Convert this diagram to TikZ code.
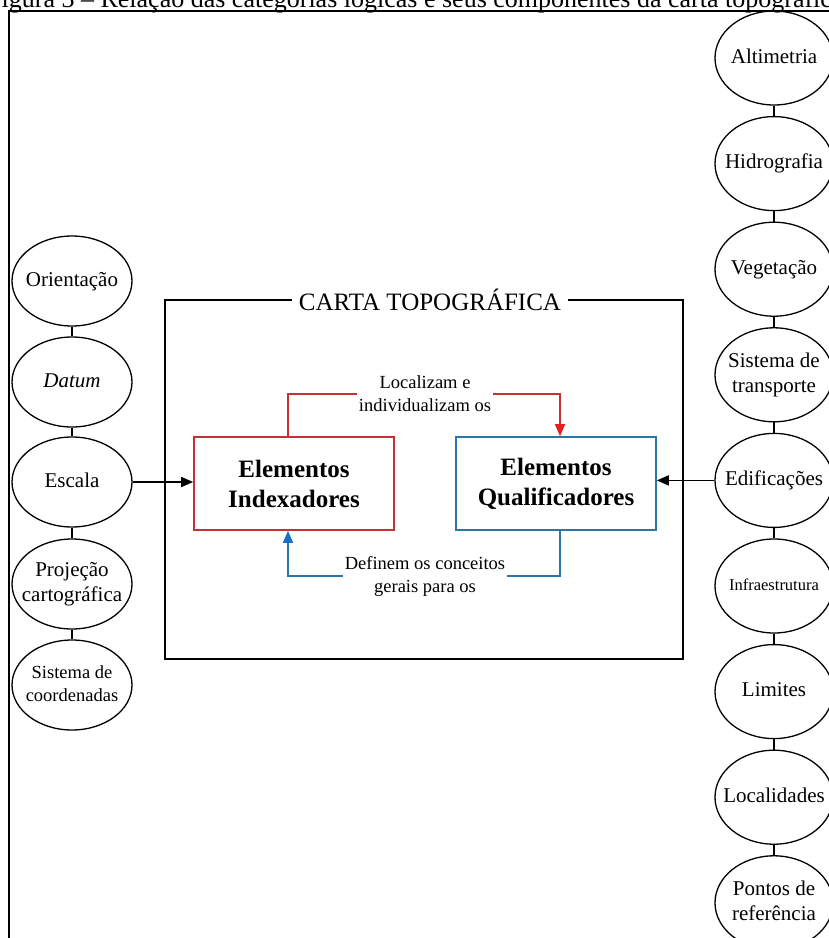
\documentclass[tikz,border=0pt]{standalone}
\usepackage{fontspec}
\setmainfont{Liberation Serif}
\usetikzlibrary{shapes.geometric,arrows.meta}
\definecolor{idxred}{RGB}{200,48,56}
\definecolor{quablue}{RGB}{42,118,165}
\definecolor{tipred}{RGB}{230,30,30}
\definecolor{tipblue}{RGB}{20,115,200}
% label that does not widen the ellipse
\newcommand{\clab}[1]{\makebox[0pt]{\begin{tabular}{@{}c@{}}#1\end{tabular}}}

\begin{document}
\begin{tikzpicture}[x=1pt, y=-1pt,
  comp/.style={draw, ellipse, line width=1.3pt, minimum width=118pt, minimum height=94pt, inner sep=0pt, font=\fontsize{21}{25}\selectfont},
  compleft/.style={comp, minimum width=120pt, minimum height=90pt},
  catbox/.style={draw=#1, line width=1.6pt, minimum width=200pt, minimum height=93pt, align=center, text=black, font=\fontsize{25}{30}\selectfont\bfseries},
  rel/.style={fill=white, inner sep=2pt, align=center, font=\fontsize{18.5}{23}\selectfont},
  link/.style={line width=1.3pt},
  feed/.style={line width=1.6pt, -{Triangle[length=12pt,width=10pt]}}]
\useasboundingbox (0,0) rectangle (829,938);
% caption and frame
\node[anchor=base west, inner sep=0pt, font=\fontsize{26}{30}\selectfont] (caption) at (-13,7) {Figura 3 -- Relação das categorias lógicas e seus componentes da carta topográfica};
\draw[line width=1.8pt] (9,938) -- (9,11) -- (829,11);
% carta
\draw[line width=1.6pt] (165,300) rectangle (683,659);
\node[fill=white, inner sep=7pt, font=\fontsize{25}{30}\selectfont] (title) at (430,300) {CARTA TOPOGRÁFICA};
\node[catbox=idxred] (idx) at (294,483.5) {Elementos\\Indexadores};
\node[catbox=quablue] (qua) at (556,483.5) {Elementos\\Qualificadores};
% left column
\node[compleft] (ori) at (72,281) {\clab{Orientação}};
\node[compleft] (dat) at (72,382) {\clab{\textit{Datum}}};
\node[compleft] (esc) at (72,482) {\clab{Escala}};
\node[compleft] (pro) at (72,584) {\clab{Projeção\\cartográfica}};
\node[compleft, font=\fontsize{18.5}{23}\selectfont] (sis) at (72,685) {\clab{Sistema de\\coordenadas}};
\draw[link] (ori) -- (dat);
\draw[link] (dat) -- (esc);
\draw[link] (esc) -- (pro);
\draw[link] (pro) -- (sis);
% right column
\node[comp] (alt) at (774,58) {\clab{Altimetria}};
\node[comp] (hid) at (774,163.6) {\clab{Hidrografia}};
\node[comp] (veg) at (774,269.2) {\clab{Vegetação}};
\node[comp] (tra) at (774,374.8) {\clab{Sistema de\\transporte}};
\node[comp] (edi) at (774,480.4) {\clab{Edificações}};
\node[comp, font=\fontsize{16.5}{20}\selectfont] (inf) at (774,586) {\clab{Infraestrutura}};
\node[comp] (lim) at (774,691.6) {\clab{Limites}};
\node[comp] (lcl) at (774,797.2) {\clab{Localidades}};
\node[comp] (pon) at (774,902.8) {\clab{Pontos de\\referência}};
\draw[link] (alt) -- (hid);
\draw[link] (hid) -- (veg);
\draw[link] (veg) -- (tra);
\draw[link] (tra) -- (edi);
\draw[link] (edi) -- (inf);
\draw[link] (inf) -- (lim);
\draw[link] (lim) -- (lcl);
\draw[link] (lcl) -- (pon);
% arrows
\draw[feed] (esc.east) -- (esc.east -| idx.west);
\draw[feed] (edi.west) -- (edi.west -| qua.east);
\coordinate (locmid) at (425,394);
\draw[link, idxred, -{Triangle[length=12pt,width=10pt,color=tipred]}] ([xshift=-6pt]idx.north) |- (locmid) -| ([xshift=4pt]qua.north);
\node[rel] (loc) at (locmid) {Localizam e\\individualizam os};
\coordinate (defmid) at (425,576);
\draw[link, quablue, -{Triangle[length=12pt,width=10pt,color=tipblue]}] ([xshift=4pt]qua.south) |- (defmid) -| ([xshift=-6pt]idx.south);
\node[rel] (def) at (defmid) {Definem os conceitos\\gerais para os};
\end{tikzpicture}
\end{document}
